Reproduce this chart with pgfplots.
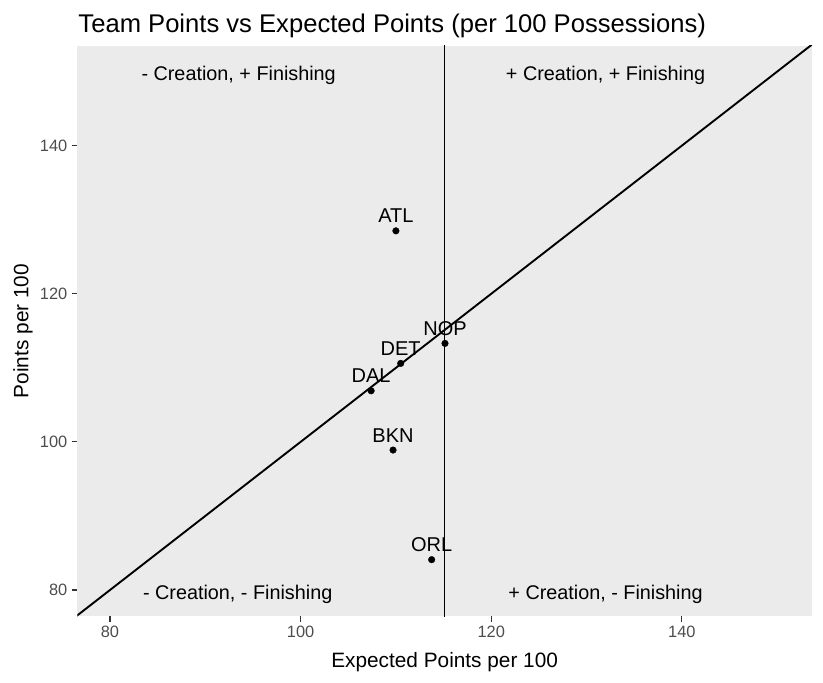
\documentclass[border=0pt]{standalone}
\usepackage{pgfplots}
\pgfplotsset{compat=1.18}
\usepackage{fontspec}
\setmainfont{Liberation Sans}
\definecolor{panelbg}{HTML}{EBEBEB}
\definecolor{ticklab}{HTML}{4D4D4D}
\definecolor{tickcol}{HTML}{333333}
\begin{document}
\begin{tikzpicture}
\begin{axis}[
  scale only axis,
  width=734.7bp, height=570bp,
  xmin=76.57, xmax=153.66,
  ymin=76.49, ymax=153.46,
  xtick={80,100,120,140}, ytick={80,100,120,140},
  axis background/.style={fill=panelbg},
  axis line style={draw=none},
  tick align=outside, xtick pos=bottom, ytick pos=left,
  major tick length=5.5bp,
  tick style={color=tickcol, line width=1.1bp},
  /pgf/number format/assume math mode=true,
  ticklabel style={font=\fontsize{16.4bp}{19bp}\selectfont, text=ticklab},
  xticklabel style={yshift=-1bp},
  yticklabel style={xshift=-1bp},
  clip=true,
]
\coordinate (bl) at (rel axis cs:0,0);
\coordinate (tr) at (rel axis cs:1,1);
% reference lines
\addplot[black, line width=1.9bp] coordinates {(76.0,76.0) (154.0,154.0)};
\addplot[black, line width=1.9bp] coordinates {(115.1,70) (115.1,160)};
% team points
\addplot[only marks, mark=*, mark size=3.3bp, black,
  point meta=explicit symbolic,
  nodes near coords,
  nodes near coords style={anchor=base, yshift=8bp, text=black,
    font=\fontsize{20bp}{24bp}\selectfont, inner sep=0pt},
] table[meta=label] {
x y label
110.0 128.5 ATL
115.15 113.3 NOP
110.5 110.6 DET
107.4 106.9 DAL
109.7 98.9 BKN
113.75 84.1 ORL
};
% quadrant labels
\node[font=\fontsize{19.8bp}{24bp}\selectfont] at (axis cs:93.5,149.5) {- Creation, + Finishing};
\node[font=\fontsize{19.8bp}{24bp}\selectfont] at (axis cs:132.0,149.5) {+ Creation, + Finishing};
\node[font=\fontsize{19.8bp}{24bp}\selectfont] at (axis cs:93.4,79.4) {- Creation, - Finishing};
\node[font=\fontsize{19.8bp}{24bp}\selectfont] at (axis cs:132.0,79.4) {+ Creation, - Finishing};
\end{axis}
% title and axis titles
\node[anchor=base west, inner sep=0pt, font=\fontsize{25.6bp}{30bp}\selectfont]
  at ([xshift=1bp, yshift=13bp]bl |- tr) {Team Points vs Expected Points (per 100 Possessions)};
\path (bl) -- (bl -| tr) coordinate[pos=0.5] (botmid);
\node[anchor=base, inner sep=0pt, font=\fontsize{20.8bp}{24bp}\selectfont]
  at ([yshift=-51bp]botmid) {Expected Points per 100};
\path (bl) -- (bl |- tr) coordinate[pos=0.5] (leftmid);
\node[anchor=base, rotate=90, inner sep=0pt, font=\fontsize{20.8bp}{24bp}\selectfont]
  at ([xshift=-49bp]leftmid) {Points per 100};
\pgfresetboundingbox
\path ([xshift=-77.3bp, yshift=-66bp]bl) rectangle ([xshift=11bp, yshift=46bp]tr);
\end{tikzpicture}
\end{document}
